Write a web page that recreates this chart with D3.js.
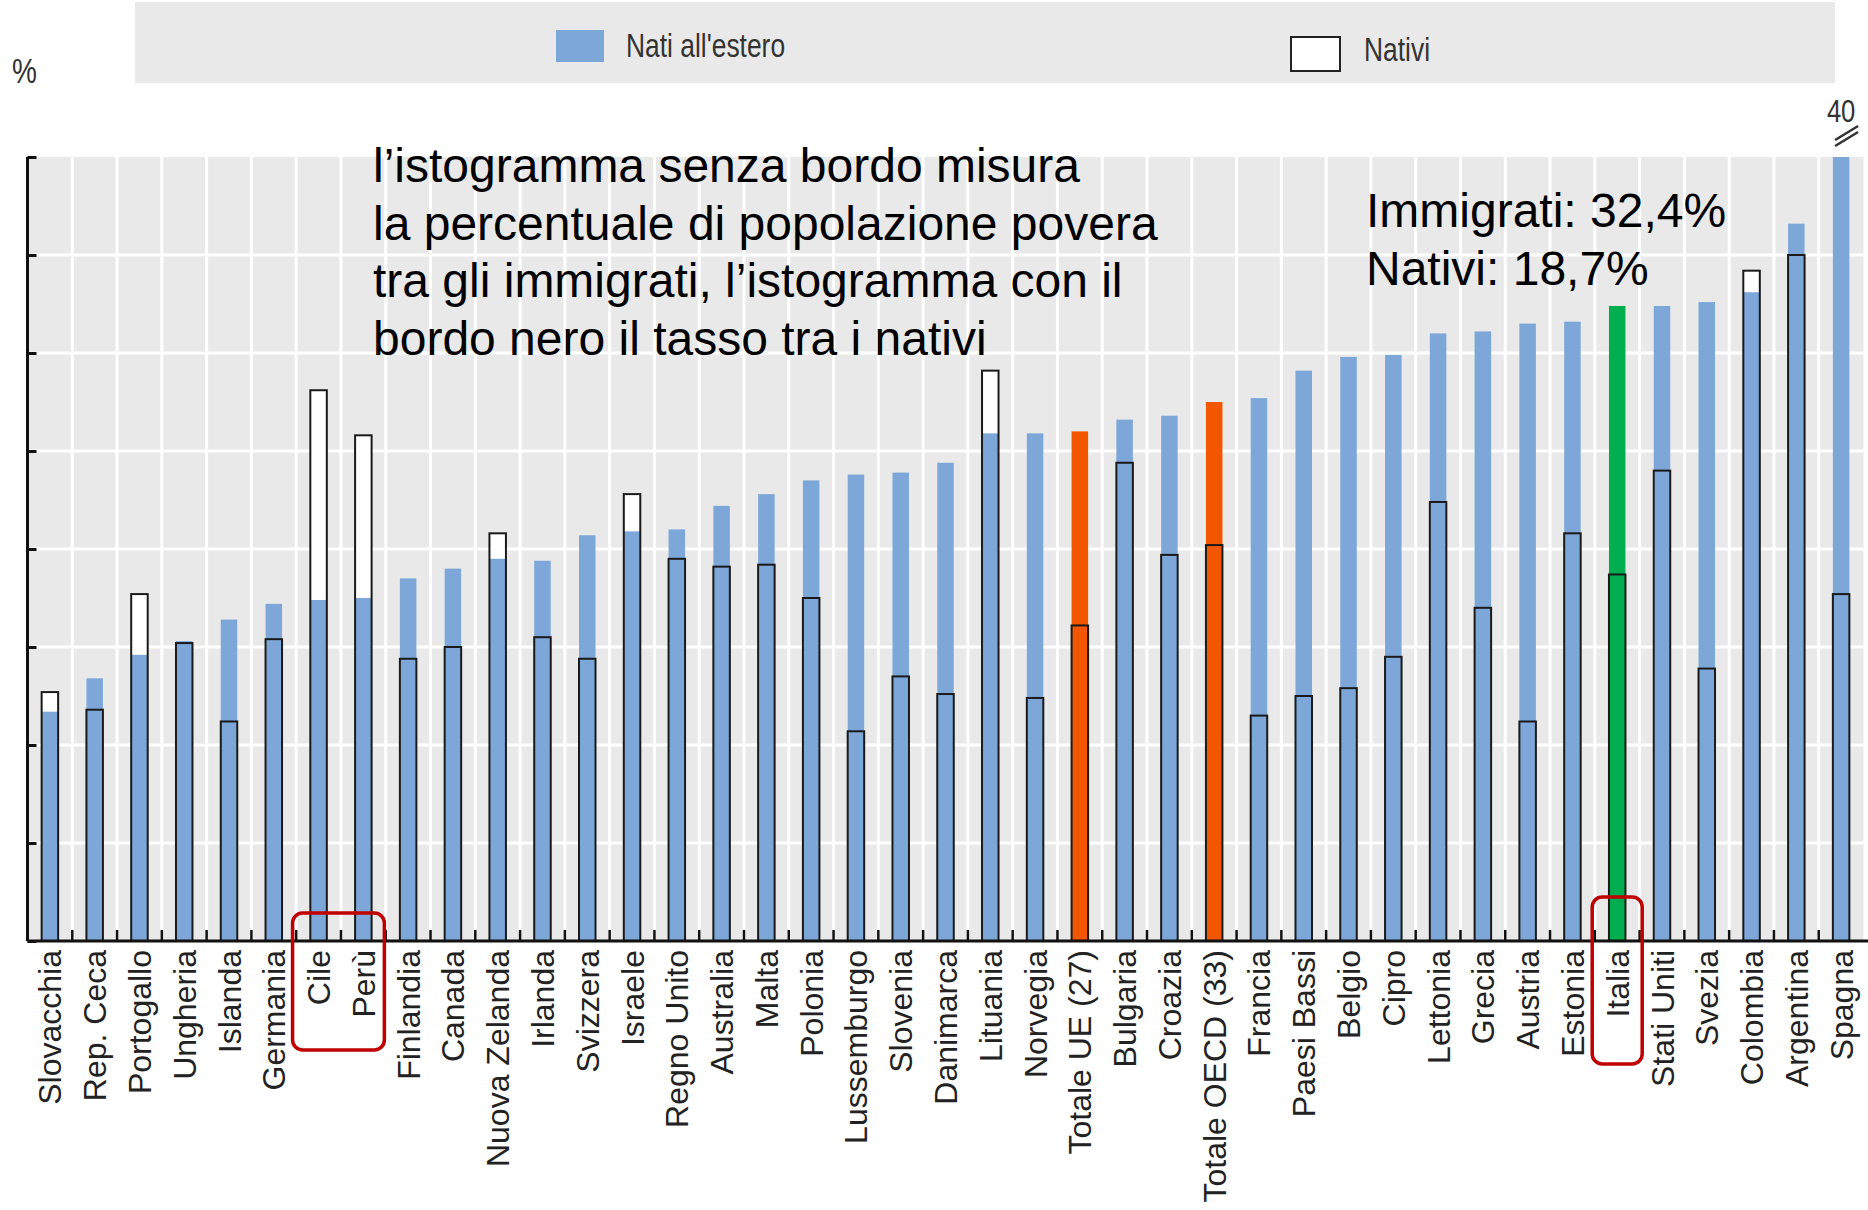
<!DOCTYPE html>
<html>
<head>
<meta charset="utf-8">
<script src="https://cdn.jsdelivr.net/npm/d3@7"></script>
<style>
body { margin: 0; background: #fff; }
</style>
</head>
<body>
<svg></svg>
<script>
var categories = ["Slovacchia", "Rep. Ceca", "Portogallo", "Ungheria", "Islanda", "Germania", "Cile", "Perù",
  "Finlandia", "Canada", "Nuova Zelanda", "Irlanda", "Svizzera", "Israele", "Regno Unito", "Australia",
  "Malta", "Polonia", "Lussemburgo", "Slovenia", "Danimarca", "Lituania", "Norvegia", "Totale UE (27)",
  "Bulgaria", "Croazia", "Totale OECD (33)", "Francia", "Paesi Bassi", "Belgio", "Cipro", "Lettonia",
  "Grecia", "Austria", "Estonia", "Italia", "Stati Uniti", "Svezia", "Colombia", "Argentina", "Spagna"];

// nati all'estero (barra senza bordo)
var immigrati = [11.7, 13.4, 14.6, 15.3, 16.4, 17.2, 17.4, 17.5, 18.5, 19.0, 19.5, 19.4, 20.7, 20.9, 21.0, 22.2,
  22.8, 23.5, 23.8, 23.9, 24.4, 25.9, 25.9, 26.0, 26.6, 26.8, 27.5, 27.7, 29.1, 29.8, 29.9, 31.0,
  31.1, 31.5, 31.6, 32.4, 32.4, 32.6, 33.1, 36.6, 40];

// nativi (barra con bordo nero)
var nativi = [12.7, 11.8, 17.7, 15.2, 11.2, 15.4, 28.1, 25.8, 14.4, 15.0, 20.8, 15.5, 14.4, 22.8, 19.5, 19.1,
  19.2, 17.5, 10.7, 13.5, 12.6, 29.1, 12.4, 16.1, 24.4, 19.7, 20.2, 11.5, 12.5, 12.9, 14.5, 22.4,
  17.0, 11.2, 20.8, 18.7, 24.0, 13.9, 34.2, 35.0, 17.7];

var totali = ["Totale UE (27)", "Totale OECD (33)"];
var evidenza = ["Italia"];
var cerchiati = [["Cile", "Perù"], ["Italia"]];
var yTicks = [0, 5, 10, 15, 20, 25, 30, 35, 40];

var noteSinistra = ["l\u2019istogramma senza bordo misura",
  "la percentuale di popolazione povera",
  "tra gli immigrati, l\u2019istogramma con il",
  "bordo nero il tasso tra i nativi"];
var noteItalia = ["Immigrati: 32,4%", "Nativi: 18,7%"];

var data = categories.map(function(c, i) {
  return {name: c, imm: immigrati[i], nat: nativi[i]};
});

var width = 1868;
var height = 1210;
var plotLeft = 27.5, plotRight = 1863.5, plotTop = 157, plotBottom = 941;

var svg = d3.select("svg")
  .attr("width", width)
  .attr("height", height);

var x = d3.scaleBand()
  .domain(categories)
  .range([plotLeft, plotRight]);

var y = d3.scaleLinear()
  .domain([0, 40])
  .range([plotBottom, plotTop])
  .clamp(true);

var barW = 16.5;

var fillColor = function(d) {
  if (totali.indexOf(d.name) >= 0) return "#f25700";
  if (evidenza.indexOf(d.name) >= 0) return "#00ae50";
  return "#7ea7d9";
};

// testo stretto (tipo Arial Narrow)
var narrowText = function(px, py, size, anchor, txt) {
  svg.append("g")
    .attr("transform", "translate(" + px + "," + py + ") scale(0.8,1)")
    .append("text")
    .attr("text-anchor", anchor)
    .attr("font-family", "'Liberation Sans', Arial, sans-serif")
    .attr("font-size", size + "px")
    .attr("fill", "#333")
    .text(txt);
};

// legenda
svg.append("rect")
  .attr("x", 135).attr("y", 2)
  .attr("width", 1700).attr("height", 81)
  .attr("fill", "#e9e9e9");
svg.append("rect")
  .attr("x", 556).attr("y", 30)
  .attr("width", 48).attr("height", 32)
  .attr("fill", "#7ea7d9");
narrowText(626, 57, 33, "start", "Nati all'estero");
svg.append("rect")
  .attr("x", 1291).attr("y", 37)
  .attr("width", 49).attr("height", 34)
  .attr("fill", "#fff")
  .attr("stroke", "#222")
  .attr("stroke-width", 2);
narrowText(1364, 61, 33, "start", "Nativi");

narrowText(12, 83, 35, "start", "%");

// sfondo e griglia
svg.append("rect")
  .attr("x", plotLeft).attr("y", plotTop)
  .attr("width", plotRight - plotLeft).attr("height", plotBottom - plotTop)
  .attr("fill", "#e9e9e9");

svg.append("g")
  .selectAll("line")
  .data(yTicks.slice(1, -1))
  .enter()
  .append("line")
  .attr("x1", plotLeft).attr("x2", plotRight)
  .attr("y1", function(d) { return y(d); })
  .attr("y2", function(d) { return y(d); })
  .attr("stroke", "#fff")
  .attr("stroke-width", 3);

svg.append("g")
  .selectAll("line")
  .data(categories.slice(1))
  .enter()
  .append("line")
  .attr("x1", function(d) { return x(d); })
  .attr("x2", function(d) { return x(d); })
  .attr("y1", plotTop).attr("y2", plotBottom)
  .attr("stroke", "#fff")
  .attr("stroke-width", 3);

// barre: fondo bianco dei nativi, poi immigrati, poi bordo nativi
svg.append("g")
  .selectAll("rect")
  .data(data)
  .enter()
  .append("rect")
  .attr("x", function(d) { return x(d.name) + x.bandwidth() / 2 - barW / 2; })
  .attr("y", function(d) { return y(d.nat); })
  .attr("width", barW)
  .attr("height", function(d) { return plotBottom - y(d.nat); })
  .attr("fill", "#fff");

svg.append("g")
  .selectAll("rect")
  .data(data)
  .enter()
  .append("rect")
  .attr("x", function(d) { return x(d.name) + x.bandwidth() / 2 - barW / 2; })
  .attr("y", function(d) { return y(d.imm); })
  .attr("width", barW)
  .attr("height", function(d) { return plotBottom - y(d.imm); })
  .attr("fill", fillColor);

svg.append("g")
  .selectAll("rect")
  .data(data)
  .enter()
  .append("rect")
  .attr("x", function(d) { return x(d.name) + x.bandwidth() / 2 - barW / 2; })
  .attr("y", function(d) { return y(d.nat); })
  .attr("width", barW)
  .attr("height", function(d) { return plotBottom - y(d.nat); })
  .attr("fill", "none")
  .attr("stroke", "#1a1a1a")
  .attr("stroke-width", 2);

// assi
var yAxis = d3.axisRight(y)
  .tickValues(yTicks)
  .tickSize(9)
  .tickFormat("");
svg.append("g")
  .attr("transform", "translate(" + plotLeft + ",0)")
  .call(yAxis)
  .call(function(g) {
    g.select(".domain").attr("stroke", "#111").attr("stroke-width", 3).attr("d", "M0," + plotTop + "V" + plotBottom);
    g.selectAll(".tick line").attr("stroke", "#111").attr("stroke-width", 3);
  });

var xAxis = d3.axisBottom(x)
  .tickSize(0)
  .tickFormat("");
svg.append("g")
  .attr("transform", "translate(0," + plotBottom + ")")
  .call(xAxis)
  .call(function(g) {
    g.select(".domain").attr("stroke", "#111").attr("stroke-width", 3).attr("d", "M" + plotLeft + ",0H" + width);
  });

svg.append("g")
  .selectAll("line")
  .data(categories.slice(1))
  .enter()
  .append("line")
  .attr("x1", function(d) { return x(d); })
  .attr("x2", function(d) { return x(d); })
  .attr("y1", plotBottom - 11).attr("y2", plotBottom)
  .attr("stroke", "#111")
  .attr("stroke-width", 2.5);

svg.append("g")
  .selectAll("text")
  .data(categories)
  .enter()
  .append("text")
  .attr("transform", function(d) {
    return "translate(" + (x(d) + x.bandwidth() / 2) + "," + (plotBottom + 9) + ") rotate(-90)";
  })
  .attr("dy", "0.36em")
  .attr("text-anchor", "end")
  .attr("font-family", "'Liberation Sans', Arial, sans-serif")
  .attr("font-size", "32px")
  .attr("fill", "#222")
  .text(function(d) { return d; });

// valore fuori scala della Spagna
var xs = x("Spagna") + x.bandwidth() / 2;
narrowText(xs, 122, 32, "middle", "40");
[0, 6].forEach(function(o) {
  svg.append("line")
    .attr("x1", xs - 6).attr("y1", 146 - o)
    .attr("x2", xs + 17).attr("y2", 132 - o)
    .attr("stroke", "#333")
    .attr("stroke-width", 2.5);
});

// riquadri rossi
cerchiati.forEach(function(grp) {
  var x0 = x(grp[0]) + x.bandwidth() / 2 - (grp.length > 1 ? 26 : 25);
  var x1 = x(grp[grp.length - 1]) + x.bandwidth() / 2 + (grp.length > 1 ? 21 : 25);
  var yy = grp.length > 1 ? [913, 1050] : [897, 1064];
  svg.append("rect")
    .attr("x", x0).attr("y", yy[0])
    .attr("width", x1 - x0).attr("height", yy[1] - yy[0])
    .attr("rx", 10)
    .attr("fill", "none")
    .attr("stroke", "#c00000")
    .attr("stroke-width", 3.5);
});

// note
svg.append("g")
  .selectAll("text")
  .data(noteSinistra)
  .enter()
  .append("text")
  .attr("x", 373)
  .attr("y", function(d, i) { return 182 + i * 57.6; })
  .attr("font-family", "'Liberation Sans', Arial, sans-serif")
  .attr("font-size", "48px")
  .attr("fill", "#000")
  .text(function(d) { return d; });

svg.append("g")
  .selectAll("text")
  .data(noteItalia)
  .enter()
  .append("text")
  .attr("x", 1366)
  .attr("y", function(d, i) { return 227 + i * 57.6; })
  .attr("font-family", "'Liberation Sans', Arial, sans-serif")
  .attr("font-size", "48px")
  .attr("fill", "#000")
  .text(function(d) { return d; });
</script>
</body>
</html>
